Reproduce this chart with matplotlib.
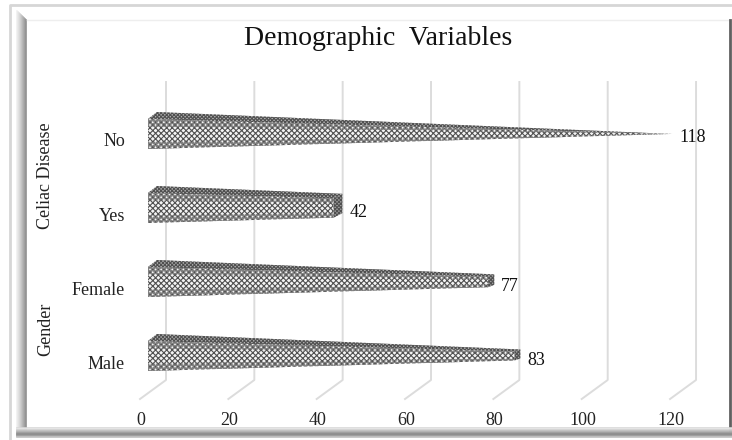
import matplotlib
matplotlib.use("Agg")
import matplotlib.pyplot as plt
from matplotlib.patches import Polygon

categories = ["Male", "Female", "Yes", "No"]
values = [83, 77, 42, 118]
group_labels = ["Gender", "Celiac Disease"]
x_ticks = [0, 20, 40, 60, 80, 100, 120]
title = "Demographic  Variables"

W, H = 732, 440
plt.rcParams["font.family"] = ["Liberation Serif", "DejaVu Serif"]

fig = plt.figure(figsize=(W / 100, H / 100), dpi=100)
bg = fig.add_axes([0, 0, 1, 1])
bg.set_xlim(0, W)
bg.set_ylim(H, 0)
bg.axis("off")

# bevelled frame
bg.plot([10, 10, 732], [440, 5, 5], color="#d6d6d6", lw=2)
left_shades = ["#f0f0f0", "#e8e8e8", "#e0e0e0", "#d6d6d6", "#cccccc", "#c0c0c0", "#b4b4b4", "#a8a8a8", "#9c9c9c", "#909090"]
for i, c in enumerate(left_shades):
    bg.plot([17 + i, 17 + i], [11 + i, 430], color=c, lw=1.2)
bg.plot([27, 729], [20, 20], color="#eeeeee", lw=1)
bg.plot([729.5, 729.5], [20, 430], color="#606060", lw=2)
bottom_shades = ["#d8d8d8", "#e6e6e6", "#d0d0d0", "#c0c0c0", "#b0b0b0", "#9c9c9c", "#8c8c8c", "#8c8c8c", "#a0a0a0", "#c0c0c0"]
for i, c in enumerate(bottom_shades):
    bg.plot([17, 732], [428.5 + i, 428.5 + i], color=c, lw=1.2)

# x = value, y = category slot, all marks go through these scales
k = 4.417
x0 = 148
slot = 74
y_male = 356
ax = fig.add_axes([0, 0, 1, 1], facecolor="none")
ax.set_xlim(-x0 / k, (W - x0) / k)
ax.set_ylim((y_male - H) / slot, y_male / slot)
ax.axis("off")

half = 15 / slot
depth_y = 7 / slot
vmax = max(values)


def ypx(p):
    return (y_male - p) / slot


# back wall lines with floor legs
for t in x_ticks:
    bx = t + 18 / k
    ax.plot([t - 8 / k, bx, bx], [ypx(399), ypx(380), ypx(82)], color="#dcdcdc", lw=1.4, zorder=1)
    ax.text(t - 7 / k, ypx(420), str(t), ha="center", va="center", fontsize=13, color="#222222")

plt.rcParams["hatch.linewidth"] = 0.8
for i, (name, v) in enumerate(zip(categories, values)):
    r = 1 - v / vmax
    h_end = half * r
    end_dx = (3 + 9 * r) / k
    end_dy = depth_y * r
    front = [(0, i - half), (0, i + half), (v, i + h_end), (v, i - h_end)]
    top = [(0, i + half), (9 / k, i + half + depth_y), (v + end_dx, i + h_end + end_dy), (v, i + h_end)]
    end = [(v, i - h_end), (v, i + h_end), (v + end_dx, i + h_end + end_dy), (v + end_dx, i - h_end + end_dy)]
    ax.add_patch(Polygon(front, fc="#f4f4f4", ec="#505050", lw=0, hatch="xxxxxx", zorder=3))
    # denser rows along the upper and lower edge of the front
    for s in (1, -1):
        strip = [(0, i + s * half), (0, i + s * half * 0.5), (v, i + s * h_end * 0.5), (v, i + s * h_end)]
        ax.add_patch(Polygon(strip, fc="none", ec="#808080", lw=0, hatch="++++++", zorder=3))
    ax.add_patch(Polygon(top, fc="#b0b0b0", ec="#505050", lw=0, hatch="xxxxxxxxx", zorder=3))
    ax.add_patch(Polygon(end, fc="#a0a0a0", ec="#505050", lw=0, hatch="xxxxxxxxx", zorder=3))
    ax.text(-23 / k, ypx(y_male - i * slot + 8), name, ha="right", va="center", fontsize=13, color="#222222")
    ax.text(v + end_dx + 7 / k, ypx(y_male - i * slot + 4), str(v), ha="left", va="center", fontsize=13, color="#111111", zorder=4)

ax.text(-102 / k, ypx(329), group_labels[0], rotation=90, ha="center", va="center", fontsize=13, color="#222222")
ax.text(-102 / k, ypx(176), group_labels[1], rotation=90, ha="center", va="center", fontsize=13, color="#222222")

fig.text(378 / W, 1 - 38 / H, title, ha="center", va="center", fontsize=20, color="#111111")

fig.savefig("out.png", dpi=100)
